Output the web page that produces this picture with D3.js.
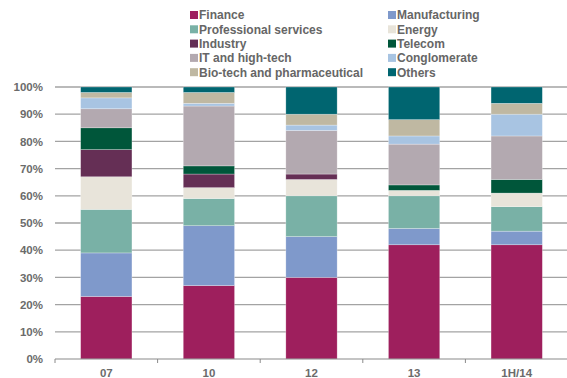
<!DOCTYPE html>
<html>
<head>
<meta charset="utf-8">
<script src="https://cdn.jsdelivr.net/npm/d3@7"></script>
<style>
  body { margin: 0; background: #fff; }
  text { font-family: "Liberation Sans", Arial, sans-serif; }
</style>
</head>
<body>
<div id="chart"></div>
<script>
// categories on x axis
const years = ["07", "10", "12", "13", "1H/14"];

// sectors, in stacking order (bottom to top)
const sectors = ["Finance", "Manufacturing", "Professional services", "Energy", "Industry",
                 "Telecom", "IT and high-tech", "Conglomerate", "Bio-tech and pharmaceutical", "Others"];
const sectorColors = ["#9e1f5d", "#7f99cb", "#79b1a6", "#e8e4da", "#652f55",
                      "#00563a", "#b3a9b0", "#a8c4e2", "#bfb8a2", "#006570"];

// share (%) per sector, one value per year
const finance      = [23, 27, 30, 42, 42];
const manufacturing = [16, 22, 15, 6, 5];
const professional = [16, 10, 15, 12, 9];
const energy       = [12, 4, 6, 2, 5];
const industry     = [10, 5, 2, 0, 0];
const telecom      = [8, 3, 0, 2, 5];
const itHighTech   = [7, 22, 16, 15, 16];
const conglomerate = [4, 1, 2, 3, 8];
const biotech      = [2, 4, 4, 6, 4];
const others       = [2, 2, 10, 12, 6];

const yTicks = [0, 10, 20, 30, 40, 50, 60, 70, 80, 90, 100];

const series = [finance, manufacturing, professional, energy, industry,
                telecom, itHighTech, conglomerate, biotech, others];

// build table for d3.stack
const table = years.map(function(y, i) {
    let row = {year: y};
    sectors.forEach(function(s, j) { row[s] = series[j][i]; });
    return row;
});

const W = 567, H = 378;
const margin = {top: 87, right: 0, bottom: 19, left: 55};

const svg = d3.select("#chart").append("svg")
    .attr("width", W)
    .attr("height", H);

const x = d3.scaleBand()
    .domain(years)
    .range([margin.left, W - margin.right + 1])
    .paddingInner(0.5)
    .paddingOuter(0.25);

const y = d3.scaleLinear()
    .domain([0, 100])
    .range([H - margin.bottom, margin.top]);

const color = d3.scaleOrdinal().domain(sectors).range(sectorColors);

// gridlines
svg.append("g").selectAll("line")
    .data(yTicks.filter(function(d) { return d > 0; }))
    .enter().append("line")
    .attr("x1", margin.left)
    .attr("x2", W)
    .attr("y1", function(d) { return y(d); })
    .attr("y2", function(d) { return y(d); })
    .attr("stroke", "#a3a3a3")
    .attr("stroke-width", 1.3);

// y labels
svg.append("g").selectAll("text")
    .data(yTicks)
    .enter().append("text")
    .attr("x", 43)
    .attr("y", function(d) { return y(d); })
    .attr("dy", "0.36em")
    .attr("text-anchor", "end")
    .attr("font-size", "11.5px")
    .attr("font-weight", "bold")
    .attr("fill", "#6b6b6b")
    .text(function(d) { return d + "%"; });

// stacked bars
const stacked = d3.stack().keys(sectors)(table);

svg.append("g").selectAll("g")
    .data(stacked)
    .enter().append("g")
    .attr("fill", function(d) { return color(d.key); })
    .selectAll("rect")
    .data(function(d) { return d; })
    .enter().append("rect")
    .attr("x", function(d) { return x(d.data.year); })
    .attr("width", x.bandwidth())
    .attr("y", function(d) { return y(d[1]); })
    .attr("height", function(d) { return y(d[0]) - y(d[1]); })
    .attr("stroke", "#ffffff")
    .attr("stroke-opacity", 0.45)
    .attr("stroke-width", 0.6);

// x axis
const xAxis = d3.axisBottom(x).tickSize(0).tickPadding(10);
const gx = svg.append("g")
    .attr("transform", "translate(0," + y(0) + ")")
    .call(xAxis);
gx.select(".domain").remove();
gx.selectAll("text")
    .attr("font-size", "11.5px")
    .attr("font-weight", "bold")
    .attr("fill", "#6b6b6b")
    .attr("font-family", "Liberation Sans, Arial, sans-serif");

svg.append("line")
    .attr("x1", margin.left).attr("x2", W)
    .attr("y1", y(0)).attr("y2", y(0))
    .attr("stroke", "#8a8a8a")
    .attr("stroke-width", 1.2);

// small ticks between the bars
const step = x.step();
const boundaries = [margin.left].concat(years.map(function(d) {
    return x(d) + x.bandwidth() + (step - x.bandwidth()) / 2;
}));
svg.append("g").selectAll("line")
    .data(boundaries)
    .enter().append("line")
    .attr("x1", function(d) { return d; })
    .attr("x2", function(d) { return d; })
    .attr("y1", y(0))
    .attr("y2", y(0) + 4)
    .attr("stroke", "#8a8a8a")
    .attr("stroke-width", 1);

// legend, two columns
const legend = svg.append("g").selectAll("g")
    .data(sectors)
    .enter().append("g")
    .attr("transform", function(d, i) {
        const col = i % 2, row = Math.floor(i / 2);
        return "translate(" + (col === 0 ? 190 : 388) + "," + (15 + row * 14.3) + ")";
    });

legend.append("rect")
    .attr("x", 0)
    .attr("y", -4)
    .attr("width", 8)
    .attr("height", 8)
    .attr("fill", function(d) { return color(d); });

legend.append("text")
    .attr("x", 9)
    .attr("y", 0)
    .attr("dy", "0.36em")
    .attr("font-size", "12px")
    .attr("font-weight", "bold")
    .attr("fill", "#666")
    .text(function(d) { return d; });
</script>
</body>
</html>
